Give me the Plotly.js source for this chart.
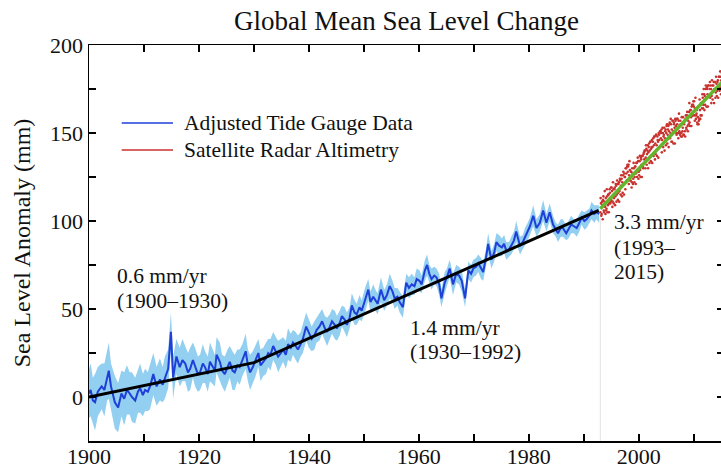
<!DOCTYPE html>
<html>
<head>
<meta charset="utf-8">
<script src="https://cdn.plot.ly/plotly-3.0.1.min.js"></script>
<style>
html,body{margin:0;padding:0;overflow:hidden;background:#fff;}
#chart{width:730px;height:468px;}
</style>
</head>
<body>
<div id="chart"></div>
<script>
// ---- Adjusted tide gauge data (year, mm) ----
const tideYears = [
1900.0,1900.3,1900.7,1901.1,1901.6,1902.3,1902.8,1903.3,1903.6,1904.0,1904.7,1905.3,1905.9,1906.4,1906.9,1907.4,1907.8,1908.4,1908.9,1909.3,1909.8,
1910.2,1910.7,1911.1,1911.7,1912.3,1912.9,1913.4,1913.8,1914.4,1914.9,1915.3,1915.9,1916.5,1917.0,1917.5,1918.0,1918.4,1918.9,1919.3,1919.8,
1920.2,1920.7,1921.1,1921.6,1922.0,1922.5,1922.9,1923.2,1923.8,1924.2,1924.7,1925.2,1925.6,1926.1,1926.5,1927.0,1927.4,1927.9,1928.5,1928.9,1929.3,1929.8,
1930.2,1930.8,1931.2,1931.7,1932.2,1932.6,1933.0,1933.5,1934.0,1934.4,1934.9,1935.3,1935.8,1936.2,1936.7,1937.1,1937.6,1938.0,1938.5,1938.9,1939.5,
1940.0,1940.5,1941.0,1941.4,1941.9,1942.4,1942.9,1943.3,1943.8,1944.2,1944.7,1945.1,1945.6,1946.0,1946.5,1946.9,1947.4,1947.8,1948.3,1948.7,1949.2,1949.6,
1950.2,1950.8,1951.2,1951.7,1952.1,1952.5,1953.1,1953.7,1954.2,1954.7,1955.2,1955.6,1956.1,1956.5,1957.1,1957.7,1958.2,1958.7,1959.2,1959.6,
1960.1,1960.5,1961.1,1961.5,1961.9,1962.3,1962.8,1963.2,1963.7,1964.1,1964.7,1965.1,1965.6,1966.2,1966.8,1967.3,1967.8,1968.4,1969.0,1969.5,1969.9,
1970.4,1970.8,1971.3,1971.7,1972.2,1972.6,1973.2,1973.7,1974.1,1974.6,1975.1,1975.5,1975.9,1976.4,1976.8,1977.3,1977.7,1978.1,1978.4,1978.9,1979.3,1979.8,
1980.2,1980.8,1981.4,1982.0,1982.6,1983.2,1983.8,1984.4,1984.9,1985.3,1985.8,1986.2,1986.8,1987.2,1987.7,1988.2,1988.7,1989.2,1989.6,1990.1,1990.5,1991.0,1991.4,1991.9,1992.3,1992.8
];
const tideLevel = [
2,4,-2,-3,3,6,4,12,15,6,-3,-6,2,-1,4,2,0,-2,3,5,1,
4,3,6,13,6,10,7,11,16,37,11,23,17,21,19,14,16,21,17,13,
14,19,17,13,20,17,15,24,20,15,13,17,20,15,14,18,17,21,26,18,14,17,
20,25,18,20,22,25,24,29,26,23,25,27,24,30,28,31,29,27,30,33,40,
36,33,35,38,40,43,39,37,40,43,41,39,42,46,44,41,45,52,48,47,51,49,
55,61,54,57,55,53,61,55,58,63,60,56,57,54,51,65,62,64,63,67,
66,64,72,75,70,67,69,68,64,56,65,68,73,64,70,69,66,56,72,70,73,
74,76,73,71,79,87,78,82,88,86,85,87,83,84,86,89,94,89,86,88,91,94,
97,103,96,99,106,99,105,98,95,93,96,96,93,95,98,97,96,99,102,100,101,103,106,104,105,104
];
const tideErr = [
14,15,13,16,14,13,15,14,16,13,15,14,13,15,14,12,14,13,12,14,12,
12,11,13,12,11,12,10,12,11,11,12,10,11,12,10,11,12,10,11,10,
10,11,9,10,11,10,9,10,11,9,10,10,9,11,10,9,10,9,10,9,10,9,
9,8,9,8,9,8,9,8,8,9,8,7,8,9,8,7,8,8,7,8,8,
8,7,8,7,8,7,7,8,7,7,8,7,7,6,7,7,6,7,7,6,7,6,
7,6,6,7,6,6,7,6,6,7,6,6,5,6,6,5,6,6,5,6,
6,5,6,6,5,6,5,5,6,5,6,5,5,6,5,5,6,5,5,5,5,
5,5,6,5,5,6,5,5,5,6,5,5,5,4,5,5,6,5,5,4,5,5,
5,6,5,5,6,5,5,5,4,5,5,5,4,5,5,4,5,5,4,5,5,4,5,5,4,5
];

// ---- Satellite radar altimetry (year, mm) ----
const satYears = [
1993.00,1993.13,1993.25,1993.38,1993.50,1993.63,1993.75,1993.88,
1994.00,1994.13,1994.25,1994.38,1994.50,1994.63,1994.75,1994.88,
1995.00,1995.13,1995.25,1995.38,1995.50,1995.63,1995.75,1995.88,
1996.00,1996.13,1996.25,1996.38,1996.50,1996.63,1996.75,1996.88,
1997.00,1997.13,1997.25,1997.38,1997.50,1997.63,1997.75,1997.88,
1998.00,1998.13,1998.25,1998.38,1998.50,1998.63,1998.75,1998.88,
1999.00,1999.13,1999.25,1999.38,1999.50,1999.63,1999.75,1999.88,
2000.00,2000.13,2000.25,2000.38,2000.50,2000.63,2000.75,2000.88,
2001.00,2001.13,2001.25,2001.38,2001.50,2001.63,2001.75,2001.88,
2002.00,2002.13,2002.25,2002.38,2002.50,2002.63,2002.75,2002.88,
2003.00,2003.13,2003.25,2003.38,2003.50,2003.63,2003.75,2003.88,
2004.00,2004.13,2004.25,2004.38,2004.50,2004.63,2004.75,2004.88,
2005.00,2005.13,2005.25,2005.38,2005.50,2005.63,2005.75,2005.88,
2006.00,2006.13,2006.25,2006.38,2006.50,2006.63,2006.75,2006.88,
2007.00,2007.13,2007.25,2007.38,2007.50,2007.63,2007.75,2007.88,
2008.00,2008.13,2008.25,2008.38,2008.50,2008.63,2008.75,2008.88,
2009.00,2009.13,2009.25,2009.38,2009.50,2009.63,2009.75,2009.88,
2010.00,2010.13,2010.25,2010.38,2010.50,2010.63,2010.75,2010.88,
2011.00,2011.13,2011.25,2011.38,2011.50,2011.63,2011.75,2011.88,
2012.00,2012.13,2012.25,2012.38,2012.50,2012.63,2012.75,2012.88,
2013.00,2013.13,2013.25,2013.38,2013.50,2013.63,2013.75,2013.88,
2014.00,2014.13,2014.25,2014.38,2014.50,2014.63,2014.75,2014.88,
2015.00,2015.13,2015.25,2015.38,2015.50
];
const satLevel = [
105,110,104,109,112,106,111,108,
113,107,114,109,115,110,116,111,
112,117,111,118,113,119,114,120,
115,121,116,122,117,123,120,124,
122,126,121,127,125,130,127,131,
128,132,126,129,123,128,122,127,
124,130,125,131,127,133,128,134,
128,134,129,136,132,137,131,138,
135,140,136,141,138,143,139,144,
140,145,141,146,142,147,143,148,
144,149,143,148,145,150,146,151,
147,152,146,150,148,153,147,152,
150,155,149,154,151,156,150,155,
152,157,151,156,153,158,154,149,
155,150,157,151,149,155,150,148,
153,149,155,151,158,153,160,154,
157,162,156,163,159,165,160,166,
165,160,164,158,161,156,159,155,
158,163,160,166,164,170,166,172,
171,175,170,176,172,177,171,175,
170,175,171,177,174,179,175,179,
173,178,174,180,177,182,176,182,
180,184,178,185,182
];
const satYears2 = [
1993.06,1993.19,1993.31,1993.44,1993.56,1993.69,1993.81,1993.94,
1994.06,1994.19,1994.31,1994.44,1994.56,1994.69,1994.81,1994.94,
1995.06,1995.19,1995.31,1995.44,1995.56,1995.69,1995.81,1995.94,
1996.06,1996.19,1996.31,1996.44,1996.56,1996.69,1996.81,1996.94,
1997.06,1997.19,1997.31,1997.44,1997.56,1997.69,1997.81,1997.94,
1998.06,1998.19,1998.31,1998.44,1998.56,1998.69,1998.81,1998.94,
1999.06,1999.19,1999.31,1999.44,1999.56,1999.69,1999.81,1999.94,
2000.06,2000.19,2000.31,2000.44,2000.56,2000.69,2000.81,2000.94,
2001.06,2001.19,2001.31,2001.44,2001.56,2001.69,2001.81,2001.94,
2002.06,2002.19,2002.31,2002.44,2002.56,2002.69,2002.81,2002.94,
2003.06,2003.19,2003.31,2003.44,2003.56,2003.69,2003.81,2003.94,
2004.06,2004.19,2004.31,2004.44,2004.56,2004.69,2004.81,2004.94,
2005.06,2005.19,2005.31,2005.44,2005.56,2005.69,2005.81,2005.94,
2006.06,2006.19,2006.31,2006.44,2006.56,2006.69,2006.81,2006.94,
2007.06,2007.19,2007.31,2007.44,2007.56,2007.69,2007.81,2007.94,
2008.06,2008.19,2008.31,2008.44,2008.56,2008.69,2008.81,2008.94,
2009.06,2009.19,2009.31,2009.44,2009.56,2009.69,2009.81,2009.94,
2010.06,2010.19,2010.31,2010.44,2010.56,2010.69,2010.81,2010.94,
2011.06,2011.19,2011.31,2011.44,2011.56,2011.69,2011.81,2011.94,
2012.06,2012.19,2012.31,2012.44,2012.56,2012.69,2012.81,2012.94,
2013.06,2013.19,2013.31,2013.44,2013.56,2013.69,2013.81,2013.94,
2014.06,2014.19,2014.31,2014.44,2014.56,2014.69,2014.81,2014.94,
2015.06,2015.19,2015.31,2015.44
];
const satLevel2 = [
113,103,111,101,114,105,117,104,
106,118,105,115,105,118,110,119,
119,108,122,110,118,109,121,111,
123,112,121,111,124,115,126,114,
116,128,115,125,118,130,123,132,
131,121,134,123,128,119,130,121,
133,122,131,121,133,125,136,124,
126,137,125,135,125,137,130,139,
140,130,143,132,140,130,142,133,
145,134,142,133,145,137,148,135,
138,149,137,146,136,149,142,151,
150,139,153,142,149,140,151,143,
154,144,152,142,155,147,158,145,
145,157,144,155,144,157,150,158,
158,147,161,150,157,148,159,151,
159,149,157,148,160,152,162,151,
155,167,154,163,154,166,160,168,
168,157,170,160,163,155,165,157,
169,158,167,160,172,164,175,163,
166,177,165,175,165,177,171,179,
177,167,180,169,177,167,179,170,
182,171,179,170,182,174,185,172,
175,186,174,184
];

// ---- Linear trends ----
const trendYears = [1900, 1930, 1992.7];
const trendLevel = [0, 19.5, 106];
const satTrendYears = [1993, 2015.5];
const satTrendLevel = [107, 180];

// ---- Labels ----
const titleText = "Global Mean Sea Level Change";
const yTitleText = "Sea Level Anomaly (mm)";
const legendLabels = ["Adjusted Tide Gauge Data", "Satellite Radar Altimetry"];
const rateLabels = [
  {lines: ["0.6 mm/yr", "(1900\u20131930)"], x: 1904.7, y: [68.5, 54.5]},
  {lines: ["1.4 mm/yr", "(1930\u20131992)"], x: 1958.1, y: [39.2, 25.6]},
  {lines: ["3.3 mm/yr", "(1993\u2013", "2015)"], x: 1995.2, y: [99.4, 84.5, 71]}
];

const upper = tideLevel.map((v, i) => v + tideErr[i]);
const lower = tideLevel.map((v, i) => v - tideErr[i]);

const serif = "Liberation Serif";
const blue = "#1e3fd8";
const band = "#93cff0";
const red = "#c8322e";
const green = "#64b42c";

const traces = [
  {x: tideYears, y: upper, mode: "lines", line: {width: 0, color: band}, hoverinfo: "skip", showlegend: false},
  {x: tideYears, y: lower, mode: "lines", line: {width: 0, color: band}, fill: "tonexty", fillcolor: band, hoverinfo: "skip", showlegend: false},
  {x: tideYears, y: tideLevel, mode: "lines", line: {width: 2, color: blue}, name: legendLabels[0], showlegend: false},
  {x: trendYears, y: trendLevel, mode: "lines", line: {width: 3, color: "#000"}, showlegend: false},
  {x: satYears.concat(satYears2), y: satLevel.concat(satLevel2), mode: "markers",
    marker: {size: 2.6, color: red}, name: legendLabels[1], showlegend: false},
  {x: satTrendYears, y: satTrendLevel, mode: "lines", line: {width: 3.5, color: green}, showlegend: false}
];

const annotations = [];
rateLabels.forEach(r => {
  r.lines.forEach((t, k) => {
    annotations.push({x: r.x, y: r.y[k], xref: "x", yref: "y", text: t, showarrow: false,
      xanchor: "left", yanchor: "middle", font: {family: serif, size: 21.5, color: "#111"}});
  });
});
// legend text
const legY = [0.803, 0.735];
legendLabels.forEach((t, k) => {
  annotations.push({x: 0.1465, y: legY[k], xref: "paper", yref: "paper", text: t, showarrow: false,
    xanchor: "left", yanchor: "middle", font: {family: serif, size: 21.5, color: "#111"}});
});

const shapes = [
  {type: "line", xref: "x", yref: "y", x0: 1993, x1: 1993, y0: -25, y1: 104, line: {color: "#e2e2e2", width: 1}, layer: "below"},
  {type: "line", xref: "paper", yref: "paper", x0: 0.0515, x1: 0.1323, y0: legY[0], y1: legY[0], line: {color: blue, width: 1.6}},
  {type: "line", xref: "paper", yref: "paper", x0: 0.0515, x1: 0.1323, y0: legY[1], y1: legY[1], line: {color: red, width: 1.6}}
];

const layout = {
  width: 730, height: 468,
  margin: {l: 89, r: 6, t: 45, b: 27},
  paper_bgcolor: "#fff", plot_bgcolor: "#fff",
  font: {family: serif, color: "#111"},
  title: {text: titleText, x: 0.5, xref: "paper", y: 0.957, yanchor: "middle",
    font: {family: serif, size: 27, color: "#111"}},
  xaxis: {
    showline: true, linecolor: "#000", linewidth: 1.5, mirror: "ticks",
    ticks: "inside", ticklen: 7, tickwidth: 1.5, tickcolor: "#000",
    showgrid: false, zeroline: false,
    tickfont: {family: serif, size: 22, color: "#111"},
    range: [1900, 2015.5], tick0: 1900, dtick: 20, ticklabelstandoff: -5,
    minor: {ticks: "inside", ticklen: 7, tickwidth: 1.5, tickcolor: "#000", dtick: 10, showgrid: false}
  },
  yaxis: {
    showline: true, linecolor: "#000", linewidth: 1.5, mirror: "ticks",
    ticks: "inside", ticklen: 7, tickwidth: 1.5, tickcolor: "#000",
    showgrid: false, zeroline: false,
    tickfont: {family: serif, size: 22, color: "#111"},
    range: [-25, 200], tick0: 0, dtick: 50,
    minor: {ticks: "inside", ticklen: 7, tickwidth: 1.5, tickcolor: "#000", dtick: 25, showgrid: false},
    title: {text: yTitleText, standoff: 12, font: {family: serif, size: 24, color: "#111"}}
  },
  showlegend: false,
  annotations: annotations,
  shapes: shapes
};

Plotly.newPlot("chart", traces, layout, {displayModeBar: false, staticPlot: true});
</script>
</body>
</html>
